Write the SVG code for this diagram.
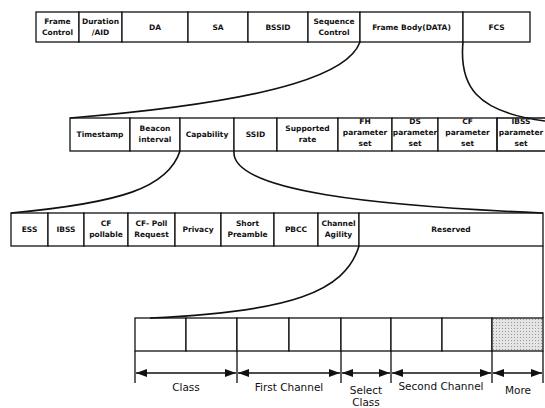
<svg xmlns="http://www.w3.org/2000/svg" width="545" height="408" viewBox="0 0 545 408">
<style>
.box{fill:#fff;stroke:#111;stroke-width:1.3}
.ln{fill:none;stroke:#111;stroke-width:1.3}
.cv{fill:none;stroke:#111;stroke-width:1.6}
.t{font-family:"DejaVu Sans","Liberation Sans",sans-serif;font-size:7.5px;font-weight:bold;text-anchor:middle;fill:#111}
.b{font-family:"DejaVu Sans","Liberation Sans",sans-serif;font-size:10.5px;text-anchor:middle;fill:#111}
.ar{stroke:#111;stroke-width:1.3;marker-start:url(#ah);marker-end:url(#ah)}
</style>
<defs>
<marker id="ah" viewBox="0 0 11 8" refX="11" refY="4" markerWidth="11" markerHeight="8" markerUnits="userSpaceOnUse" orient="auto-start-reverse"><path d="M0,0 L11,4 L0,8 z" fill="#111"/></marker>
<pattern id="dots" width="3" height="3" patternUnits="userSpaceOnUse"><rect width="3" height="3" fill="#e4e4e4"/><rect x="1" y="1" width="1" height="1" fill="#9a9a9a"/></pattern>
</defs>
<rect width="545" height="408" fill="#fff"/>

<g id="row1">
<g id="frame-control"><rect class="box" x="36" y="12" width="43" height="30"/><text class="t" x="57.5" y="24">Frame</text><text class="t" x="57.5" y="35">Control</text></g>
<g id="duration"><rect class="box" x="79" y="12" width="43" height="30"/><text class="t" x="100.5" y="24">Duration</text><text class="t" x="100.5" y="35">/AID</text></g>
<g id="da"><rect class="box" x="122" y="12" width="66" height="30"/><text class="t" x="155" y="30">DA</text></g>
<g id="sa"><rect class="box" x="188" y="12" width="60" height="30"/><text class="t" x="218" y="30">SA</text></g>
<g id="bssid"><rect class="box" x="248" y="12" width="60" height="30"/><text class="t" x="278" y="30">BSSID</text></g>
<g id="sequence-control"><rect class="box" x="308" y="12" width="52" height="30"/><text class="t" x="334" y="24">Sequence</text><text class="t" x="334" y="35">Control</text></g>
<g id="frame-body"><rect class="box" x="360" y="12" width="103" height="30"/><text class="t" x="411.5" y="30">Frame Body(DATA)</text></g>
<g id="fcs"><rect class="box" x="463" y="12" width="67" height="30"/><text class="t" x="496.5" y="30">FCS</text></g>
</g>

<g id="row2">
<g id="timestamp"><rect class="box" x="70" y="118" width="60" height="33"/><text class="t" x="100" y="137">Timestamp</text></g>
<g id="beacon-interval"><rect class="box" x="130" y="118" width="50" height="33"/><text class="t" x="155" y="131">Beacon</text><text class="t" x="155" y="142">interval</text></g>
<g id="capability"><rect class="box" x="180" y="118" width="54" height="33"/><text class="t" x="207" y="137">Capability</text></g>
<g id="ssid"><rect class="box" x="234" y="118" width="43" height="33"/><text class="t" x="255.5" y="137">SSID</text></g>
<g id="supported-rate"><rect class="box" x="277" y="118" width="61" height="33"/><text class="t" x="307.5" y="131">Supported</text><text class="t" x="307.5" y="142">rate</text></g>
<g id="fh"><rect class="box" x="338" y="118" width="54" height="33"/><text class="t" x="365" y="124">FH</text><text class="t" x="365" y="135">parameter</text><text class="t" x="365" y="146">set</text></g>
<g id="ds"><rect class="box" x="392" y="118" width="46" height="33"/><text class="t" x="415" y="124">DS</text><text class="t" x="415" y="135">parameter</text><text class="t" x="415" y="146">set</text></g>
<g id="cf"><rect class="box" x="438" y="118" width="59" height="33"/><text class="t" x="467.5" y="124">CF</text><text class="t" x="467.5" y="135">parameter</text><text class="t" x="467.5" y="146">set</text></g>
<g id="ibss-param"><path class="ln" d="M546,118 H497 V151 H546"/><text class="t" x="521" y="124">IBSS</text><text class="t" x="521" y="135">parameter</text><text class="t" x="521" y="146">set</text></g>
</g>

<g id="row3">
<g id="ess"><rect class="box" x="11" y="213" width="37" height="33"/><text class="t" x="29.5" y="232">ESS</text></g>
<g id="ibss"><rect class="box" x="48" y="213" width="36" height="33"/><text class="t" x="66" y="232">IBSS</text></g>
<g id="cf-pollable"><rect class="box" x="84" y="213" width="44" height="33"/><text class="t" x="106" y="226">CF</text><text class="t" x="106" y="237">pollable</text></g>
<g id="cf-poll-request"><rect class="box" x="128" y="213" width="47" height="33"/><text class="t" x="151.5" y="226">CF- Poll</text><text class="t" x="151.5" y="237">Request</text></g>
<g id="privacy"><rect class="box" x="175" y="213" width="46" height="33"/><text class="t" x="198" y="232">Privacy</text></g>
<g id="short-preamble"><rect class="box" x="221" y="213" width="53" height="33"/><text class="t" x="247.5" y="226">Short</text><text class="t" x="247.5" y="237">Preamble</text></g>
<g id="pbcc"><rect class="box" x="274" y="213" width="44" height="33"/><text class="t" x="296" y="232">PBCC</text></g>
<g id="channel-agility"><rect class="box" x="318" y="213" width="41" height="33"/><text class="t" x="338.5" y="226">Channel</text><text class="t" x="338.5" y="237">Agility</text></g>
<g id="reserved"><rect class="box" x="359" y="213" width="184" height="33"/><text class="t" x="451" y="232">Reserved</text></g>
</g>

<g id="row4">
<rect class="box" x="135" y="318" width="51" height="33"/>
<rect class="box" x="186" y="318" width="51" height="33"/>
<rect class="box" x="237" y="318" width="52" height="33"/>
<rect class="box" x="289" y="318" width="52" height="33"/>
<rect class="box" x="341" y="318" width="50" height="33"/>
<rect class="box" x="391" y="318" width="51" height="33"/>
<rect class="box" x="442" y="318" width="50" height="33"/>
<rect x="492" y="318" width="51" height="33" fill="url(#dots)" stroke="#111" stroke-width="1.3"/>
</g>

<g id="connectors">
<path class="cv" d="M360,42 C350,70 290,100 70,118"/>
<path class="cv" d="M463,42 C459,85 475,112 545,121"/>
<path class="cv" d="M180,151 C168,188 120,203 11,213"/>
<path class="cv" d="M234,151 C230,192 380,206 543,213"/>
<path class="cv" d="M359,246 C345,292 290,312 150,318"/>
<path class="ln" d="M543,246 V318"/>
<path class="ln" d="M135,351 V383 M237,351 V383 M341,351 V383 M391,351 V383 M492,351 V383 M543,351 V383"/>
<line class="ar" x1="136" y1="373" x2="236" y2="373"/>
<line class="ar" x1="238" y1="373" x2="340" y2="373"/>
<line class="ar" x1="342" y1="373" x2="390" y2="373"/>
<line class="ar" x1="392" y1="373" x2="491" y2="373"/>
<line class="ar" x1="493" y1="373" x2="542" y2="373"/>
</g>

<g id="labels">
<text class="b" x="186" y="391">Class</text>
<text class="b" x="289" y="391">First Channel</text>
<text class="b" x="366" y="394">Select</text>
<text class="b" x="366" y="406">Class</text>
<text class="b" x="441" y="390">Second Channel</text>
<text class="b" x="518" y="394">More</text>
</g>
</svg>
